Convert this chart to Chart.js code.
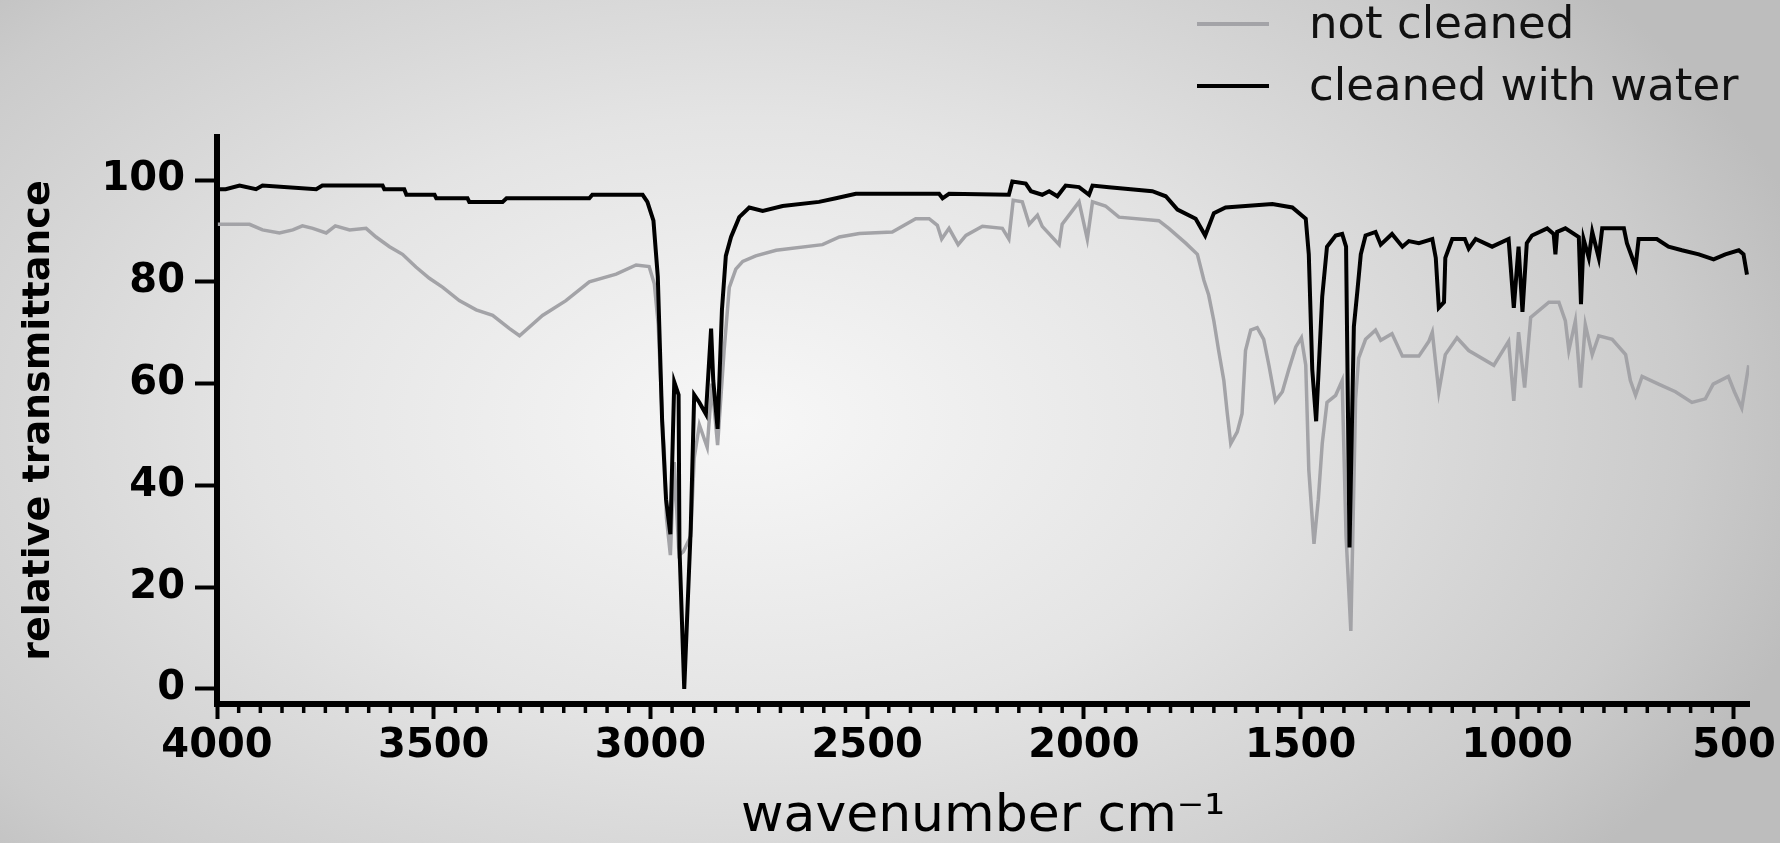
<!DOCTYPE html>
<html>
<head>
<meta charset="utf-8">
<script src="https://cdn.jsdelivr.net/npm/chart.js@4.4.1/dist/chart.umd.min.js"></script>
<style>
  html, body { margin: 0; padding: 0; }
  body {
    width: 1780px; height: 843px; overflow: hidden;
    background: radial-gradient(ellipse 62% 80% at 42% 50%, #f7f7f7 0%, #e4e4e4 45%, #cbcbcb 85%, #bdbdbd 100%);
  }
  #wrap { position: relative; width: 1780px; height: 843px; }
  #legend { position: absolute; left: 0; top: 0; }
  .item { position: absolute; left: 1197px; height: 45px; }
  .swatch { position: absolute; left: 0; width: 72px; }
  .label {
    position: absolute; left: 112px; top: 0; white-space: nowrap;
    font: 45px/45px "DejaVu Sans", sans-serif; color: #111;
  }
</style>
</head>
<body>
<div id="wrap">
  <canvas id="Grafica"></canvas>
  <div id="legend"></div>
</div>
<script>
// FTIR spectra (wavenumber in cm-1, transmittance in %)
const wnNotCleaned = [3998, 3925, 3895, 3856, 3825, 3803, 3779, 3748, 3727, 3694, 3656, 3633, 3602, 3572, 3541, 3510, 3479, 3441, 3402, 3364, 3325, 3302, 3249, 3195, 3141, 3079, 3033, 3003, 2991, 2982, 2972, 2968, 2963, 2954, 2945, 2934, 2924, 2907, 2899, 2887, 2869, 2858, 2845, 2830, 2818, 2803, 2787, 2757, 2710, 2603, 2564, 2518, 2442, 2388, 2357, 2338, 2328, 2311, 2290, 2272, 2234, 2188, 2173, 2163, 2142, 2126, 2107, 2096, 2057, 2050, 2011, 1992, 1980, 1950, 1919, 1827, 1804, 1765, 1738, 1723, 1712, 1700, 1689, 1677, 1669, 1661, 1646, 1635, 1627, 1615, 1600, 1585, 1573, 1558, 1542, 1527, 1511, 1498, 1488, 1481, 1469, 1459, 1450, 1439, 1419, 1404, 1395, 1384, 1373, 1366, 1350, 1327, 1315, 1289, 1265, 1227, 1204, 1196, 1181, 1166, 1139, 1112, 1054, 1020, 1008, 997, 983, 969, 927, 904, 889, 881, 866, 854, 843, 827, 812, 781, 750, 739, 727, 712, 674, 635, 597, 566, 548, 513, 499, 482, 466];
const tNotCleaned = [91.3, 91.3, 90.2, 89.6, 90.2, 91, 90.5, 89.6, 91, 90.2, 90.5, 88.8, 86.9, 85.4, 82.9, 80.7, 78.9, 76.3, 74.5, 73.4, 70.8, 69.4, 73.4, 76.3, 80, 81.5, 83.3, 83, 79.6, 71.6, 51.9, 46.7, 33.6, 26.3, 44.6, 26.3, 27, 30, 45.4, 51.9, 47.5, 60, 47.9, 66.5, 78.9, 82.5, 84, 85.1, 86.2, 87.3, 88.8, 89.5, 89.8, 92.4, 92.4, 91.1, 88.4, 90.5, 87.3, 89.1, 90.9, 90.5, 88.4, 96, 95.7, 91.3, 93.1, 90.9, 87.3, 91.3, 95.7, 88.4, 95.7, 94.9, 92.7, 92, 90.5, 87.6, 85.4, 80.3, 77.4, 72.3, 66.5, 60.6, 54.1, 48.2, 50.5, 54.1, 66.5, 70.5, 71, 68.7, 63.6, 56.6, 58.4, 62.8, 67.2, 69, 63.6, 43.1, 28.5, 37.3, 48.2, 56.3, 57.7, 60.6, 30, 11.4, 57, 65, 68.7, 70.5, 68.5, 69.8, 65.4, 65.4, 68.3, 70.1, 58.4, 65.7, 69, 66.5, 63.6, 68.3, 56.6, 70.1, 59.2, 73, 76, 76, 72.3, 66.5, 72.3, 59.2, 71.6, 65.7, 69.4, 68.7, 65.7, 60.6, 57.7, 61.4, 59.9, 58.4, 56.3, 57, 59.9, 61.4, 58.4, 55.2, 63.6];

const wnCleaned = [3998, 3980, 3948, 3910, 3895, 3771, 3757, 3618, 3614, 3568, 3563, 3498, 3494, 3422, 3418, 3341, 3332, 3141, 3134, 3018, 3007, 2993, 2983, 2973, 2964, 2954, 2945, 2935, 2933, 2922, 2907, 2899, 2887, 2872, 2860, 2855, 2845, 2835, 2826, 2814, 2795, 2772, 2741, 2695, 2611, 2572, 2526, 2334, 2326, 2311, 2173, 2165, 2134, 2122, 2096, 2080, 2061, 2042, 2011, 1988, 1980, 1942, 1842, 1811, 1784, 1742, 1720, 1700, 1673, 1627, 1565, 1519, 1488, 1481, 1473, 1464, 1450, 1439, 1419, 1404, 1395, 1387, 1377, 1369, 1361, 1350, 1327, 1315, 1289, 1265, 1250, 1227, 1196, 1188, 1181, 1169, 1166, 1150, 1121, 1112, 1096, 1058, 1020, 1008, 997, 988, 978, 966, 931, 916, 912, 908, 889, 858, 853, 847, 835, 827, 812, 804, 754, 747, 727, 720, 678, 651, 620, 581, 547, 520, 489, 478, 470];
const tCleaned = [98.2, 98.2, 98.9, 98.2, 98.9, 98.2, 98.9, 98.9, 98.2, 98.2, 97.1, 97.1, 96.4, 96.4, 95.7, 95.7, 96.4, 96.4, 97.1, 97.1, 95.7, 92, 81, 52.7, 37.3, 30.4, 60.3, 57.8, 27.8, 0, 31.5, 57.8, 56.3, 54, 70.8, 60.6, 51.1, 74.5, 85.1, 88.8, 92.7, 94.6, 93.9, 94.9, 95.7, 96.4, 97.3, 97.3, 96.4, 97.3, 97.1, 99.7, 99.3, 97.8, 97.1, 97.8, 96.8, 98.9, 98.6, 97.1, 98.9, 98.6, 97.8, 96.8, 94.2, 92.4, 89.1, 93.5, 94.6, 94.9, 95.3, 94.6, 92.4, 85.4, 62.8, 52.6, 77.1, 86.9, 89.1, 89.4, 86.9, 27.8, 71.2, 78.1, 85.4, 89.1, 89.8, 87.3, 89.4, 86.9, 88, 87.6, 88.4, 84.7, 74.9, 76, 84.7, 88.4, 88.4, 86.5, 88.4, 86.9, 88.4, 74.9, 86.9, 74.1, 87.6, 89.1, 90.5, 89.4, 85.4, 89.8, 90.5, 88.8, 75.6, 88.4, 84.7, 89.8, 84.7, 90.5, 90.5, 87.6, 82.9, 88.4, 88.4, 86.9, 86.2, 85.4, 84.4, 85.4, 86.2, 85.4, 81.4];

const xMajorTicks = [4000, 3500, 3000, 2500, 2000, 1500, 1000, 500];
const yTicks = [0, 20, 40, 60, 80, 100];

const toPoints = (xs, ys) => xs.map((x, i) => ({ x: x, y: ys[i] }));

const data = {
  datasets: [
    {
      label: 'not cleaned',
      data: toPoints(wnNotCleaned, tNotCleaned),
      borderColor: '#a3a3a7',
      borderWidth: 3.5,
      order: 2
    },
    {
      label: 'cleaned with water',
      data: toPoints(wnCleaned, tCleaned),
      borderColor: '#000000',
      borderWidth: 4,
      order: 1
    }
  ]
};

// small ticks every 50 cm-1 between the labelled ones
const minorTicks = {
  id: 'minorTicks',
  afterDraw(chart) {
    const xs = chart.scales.x;
    const ctx = chart.ctx;
    const y0 = chart.chartArea.bottom;
    ctx.save();
    ctx.strokeStyle = '#000';
    ctx.lineWidth = 3.5;
    for (let v = 500; v <= 4000; v += 50) {
      if (v % 500 === 0 || v < xs.min) continue;
      const px = xs.getPixelForValue(v);
      ctx.beginPath();
      ctx.moveTo(px, y0);
      ctx.lineTo(px, y0 + 9);
      ctx.stroke();
    }
    ctx.restore();
  }
};

// legend as html, stacked in the top right corner
const htmlLegend = {
  id: 'htmlLegend',
  afterUpdate(chart) {
    const box = document.getElementById('legend');
    box.innerHTML = '';
    chart.data.datasets.forEach((ds, i) => {
      const row = document.createElement('div');
      row.className = 'item';
      row.style.top = (i * 62) + 'px';
      const line = document.createElement('span');
      line.className = 'swatch';
      line.style.background = ds.borderColor;
      line.style.height = ds.borderWidth + 'px';
      line.style.top = (24 - ds.borderWidth / 2) + 'px';
      const txt = document.createElement('span');
      txt.className = 'label';
      txt.textContent = ds.label;
      row.append(line, txt);
      box.appendChild(row);
    });
  }
};

const config = {
  type: 'line',
  data: data,
  options: {
    responsive: true,
    maintainAspectRatio: false,
    animation: false,
    events: [],
    layout: { padding: { top: 137, right: 28, bottom: 0, left: 0 } },
    elements: {
      point: { radius: 0 },
      line: { tension: 0, fill: false }
    },
    plugins: {
      legend: { display: false },
      tooltip: { enabled: false }
    },
    scales: {
      x: {
        type: 'linear',
        reverse: true,
        min: 465,
        max: 4000,
        afterBuildTicks: (scale) => { scale.ticks = xMajorTicks.map(v => ({ value: v })); },
        afterFit: (scale) => { scale.height = 139; },
        border: { display: true, color: '#000', width: 6 },
        grid: { drawOnChartArea: false, drawTicks: true, tickLength: 15, tickWidth: 4, tickColor: '#000' },
        ticks: {
          autoSkip: false,
          maxRotation: 0,
          padding: 4,
          color: '#000',
          font: { family: '"DejaVu Sans"', size: 40, weight: 'bold', lineHeight: 1.2 },
          callback: (v) => String(v)
        },
        title: {
          display: true,
          text: 'wavenumber cm\u207B\u00B9',
          color: '#000',
          padding: { top: 0, bottom: 0 },
          font: { family: '"DejaVu Sans"', size: 52, lineHeight: 1 }
        }
      },
      y: {
        type: 'linear',
        min: -2.95,
        max: 108.45,
        afterBuildTicks: (scale) => { scale.ticks = yTicks.map(v => ({ value: v })); },
        afterFit: (scale) => { scale.width = 217; },
        border: { display: true, color: '#000', width: 6 },
        grid: { drawOnChartArea: false, drawTicks: true, tickLength: 22, tickWidth: 4, tickColor: '#000' },
        ticks: {
          padding: 10,
          color: '#000',
          font: { family: '"DejaVu Sans"', size: 40, weight: 'bold', lineHeight: 1.2 }
        },
        title: {
          display: true,
          text: 'relative transmittance',
          color: '#000',
          padding: { top: 20, bottom: 0 },
          font: { family: '"DejaVu Sans"', size: 38, weight: 'bold', lineHeight: 1 }
        }
      }
    }
  },
  plugins: [minorTicks, htmlLegend]
};

const chart = new Chart(document.getElementById('Grafica'), config);
</script>
</body>
</html>
